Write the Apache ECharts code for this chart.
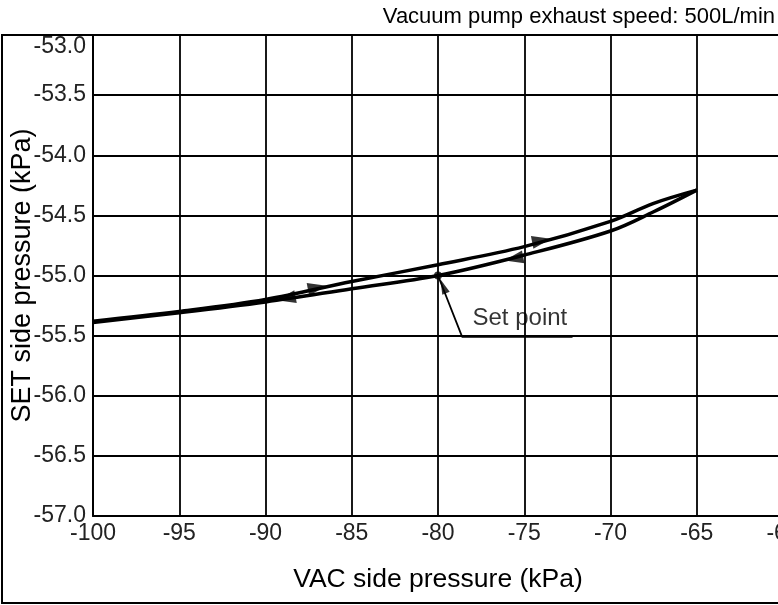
<!DOCTYPE html>
<html>
<head>
<meta charset="utf-8">
<script src="https://cdn.jsdelivr.net/npm/echarts@6/dist/echarts.min.js"></script>
<style>
html,body{margin:0;padding:0;background:#fff;}
#main{width:778px;height:605px;}
</style>
</head>
<body>
<div id="main"></div>
<script>
// ---- data ----
var titleText = 'Vacuum pump exhaust speed: 500L/min';
var xName = 'VAC side pressure (kPa)';
var yName = 'SET side pressure (kPa)';
var xMin = -100, xMax = -60, xStep = 5;
var yMin = -57, yMax = -53, yStep = 0.5;

// forward (rising) branch
var upX = [-100, -95, -90, -85, -80, -75, -70, -67.5, -65];
var upY = [-55.38, -55.30, -55.20, -55.05, -54.91, -54.76, -54.55, -54.40, -54.29];
// return (falling) branch
var downX = [-65, -67.5, -70, -75, -80, -85, -90, -95, -100];
var downY = [-54.29, -54.47, -54.63, -54.83, -55.00, -55.11, -55.22, -55.31, -55.39];

// direction arrows on the branches
var arrowRightX = [-87, -74];
var arrowRightY = [-55.10, -54.71];
var arrowLeftX = [-88.8, -75.6];
var arrowLeftY = [-55.19, -54.86];

// set point and its leader
var setPoint = [-80, -55.0];
var leaderX = [-80, -78.6, -72.2];
var leaderY = [-55.0, -55.51, -55.51];
var setLabel = 'Set point';
var setLabelPos = [-78.0, -55.36];

function zip(a, b) { return a.map(function (v, i) { return [v, b[i]]; }); }

var chart = echarts.init(document.getElementById('main'));
var font = '"Liberation Sans", Arial, sans-serif';

var option = {
  animation: false,
  backgroundColor: '#fff',
  title: {
    text: titleText, right: -2, top: 1,
    textStyle: { fontSize: 22, fontWeight: 'normal', color: '#000', fontFamily: font }
  },
  grid: { left: 93, top: 35, right: -5, bottom: 89, containLabel: false, outerBoundsMode: 'none' },
  xAxis: {
    type: 'value', min: xMin, max: xMax, interval: xStep,
    name: xName, nameLocation: 'middle', nameGap: 50,
    nameTextStyle: { fontSize: 26.5, color: '#000', fontFamily: font },
    axisLine: { show: true, lineStyle: { color: '#000', width: 2 } },
    axisTick: { show: false },
    axisLabel: { fontSize: 23, color: '#222', margin: 6, fontFamily: font, hideOverlap: false },
    splitLine: { show: true, lineStyle: { color: '#000', width: 1.8 } }
  },
  yAxis: {
    type: 'value', min: yMin, max: yMax, interval: yStep,
    name: yName, nameLocation: 'middle', nameGap: 57, nameMoveOverlap: false,
    nameTextStyle: { fontSize: 27, color: '#000', fontFamily: font },
    axisLine: { show: true, lineStyle: { color: '#000', width: 2 } },
    axisTick: { show: false },
    axisLabel: {
      fontSize: 23, color: '#222', margin: 7, fontFamily: font,
      formatter: function (v) { return v.toFixed(1); },
      verticalAlignMaxLabel: 'top'
    },
    splitLine: { show: true, lineStyle: { color: '#000', width: 1.8 } }
  },
  series: [
    {
      type: 'line', data: zip(upX, upY), smooth: 0.35, symbol: 'none',
      lineStyle: { color: '#000', width: 3.5 }, z: 5
    },
    {
      type: 'line', data: zip(downX, downY), smooth: 0.35, symbol: 'none',
      lineStyle: { color: '#000', width: 3.5 }, z: 5
    },
    {
      type: 'scatter', data: zip(arrowRightX, arrowRightY),
      symbol: 'triangle', symbolSize: [13, 19], symbolRotate: -79,
      itemStyle: { color: '#000' }, z: 6
    },
    {
      type: 'scatter', data: zip(arrowLeftX, arrowLeftY),
      symbol: 'triangle', symbolSize: [13, 19], symbolRotate: 101,
      itemStyle: { color: '#000' }, z: 6
    },
    {
      type: 'line', data: zip(leaderX, leaderY), symbol: 'none',
      lineStyle: { color: '#000', width: 1.8 }, z: 6
    },
    {
      type: 'scatter', data: [setPoint], symbol: 'circle', symbolSize: 8,
      itemStyle: { color: '#000' }, z: 7
    },
    {
      type: 'scatter', data: [{ value: [leaderX[0] + 0.3, leaderY[0] - 0.09] }],
      symbol: 'triangle', symbolSize: [8, 15], symbolRotate: 22,
      itemStyle: { color: '#000' }, z: 7
    },
    {
      type: 'scatter', data: [setLabelPos], symbolSize: 0,
      label: {
        show: true, position: 'right', distance: 0,
        formatter: setLabel, fontSize: 24, color: '#000', fontFamily: font
      }, z: 8
    }
  ],
  graphic: [
    {
      type: 'rect', shape: { x: 2, y: 35, width: 800, height: 568 },
      style: { fill: null, stroke: '#000', lineWidth: 2 }, z: 100, silent: true
    }
  ]
};
chart.setOption(option);
</script>
</body>
</html>
